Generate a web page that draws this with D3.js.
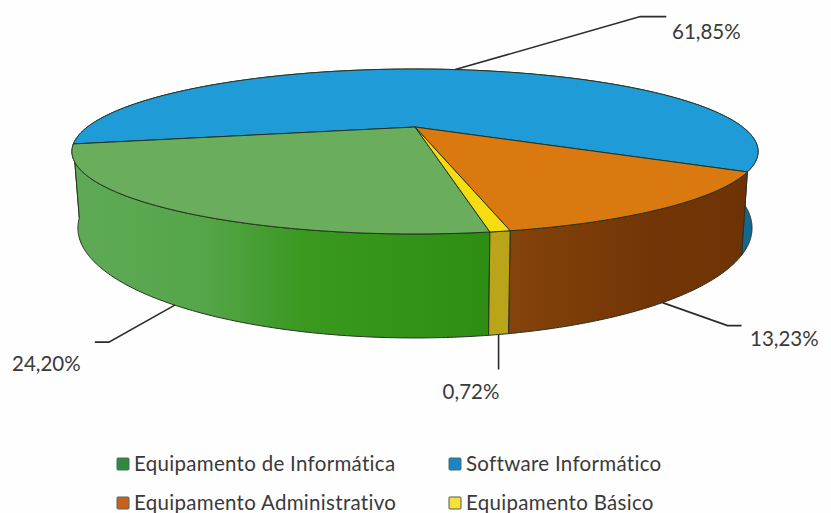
<!DOCTYPE html>
<html><head><meta charset="utf-8">
<script src="https://cdn.jsdelivr.net/npm/d3@7/dist/d3.min.js"></script>
<style>html,body{margin:0;padding:0;background:#fff}svg{display:block}text{font-family:Lato,"Open Sans",sans-serif;fill:#3a3a3a}</style>
</head><body><div id="c"></div>
<script>
const categories = ["Equipamento de Informática","Software Informático","Equipamento Administrativo","Equipamento Básico"];
const values = [24.20,61.85,13.23,0.72];
const labels = ["24,20%","61,85%","13,23%","0,72%"];
const topColors = ["#69ad5d","#1f9bd8","#d9790f","#f6dd12"];
const legendColors = ["#2f8a3c","#1b84c4","#c8621a","#f2e23a"];
const wallColors = ["url(#gw)","#14688f","url(#ow)","#b9a41a"];

const W=831,H=513;
const svg=d3.select("#c").append("svg").attr("width",W).attr("height",H);
svg.append("rect").attr("width",W).attr("height",H).attr("fill","#fefefe");
const defs=svg.append("defs");
function grad(id,x1,x2,stops){
  const g=defs.append("linearGradient").attr("id",id).attr("gradientUnits","userSpaceOnUse")
    .attr("x1",x1).attr("x2",x2).attr("y1",0).attr("y2",0);
  stops.forEach(s=>g.append("stop").attr("offset",s[0]).attr("stop-color",s[1]));
}
grad("gw",75,495,[[0,"#5fa957"],[0.3,"#55a64a"],[0.55,"#3a981f"],[1,"#2d8d12"]]);
grad("ow",512,748,[[0,"#84430a"],[0.6,"#733506"],[1,"#6e3305"]]);

// perspective projection of the disc rim
const P={x0:415,y0:127,A:327.6,B:75.2,p:0.297,
  ex:414,ey:151.5,ea:343,eb:82.5, bx:414,by:228,ba:337,bb:110};
function topRim(a){
  const u=Math.sin(a),v=-Math.cos(a),w=1-P.p*v;
  return [P.x0+P.A*u/w,P.y0+P.B*v/w];
}
function bottomRim(a){
  const t=topRim(a);
  return [P.bx+P.ba*(t[0]-P.ex)/P.ea,P.by+P.bb*(t[1]-P.ey)/P.eb];
}
const deg=Math.PI/180;
const pie=d3.pie().sort(null).value(d=>d).startAngle(170.7*deg).endAngle(530.7*deg);
const arcs=pie(values);
const line=d3.line();
function samples(a0,a1){const n=Math.max(2,Math.ceil(Math.abs(a1-a0)/(0.5*deg)));
  return d3.range(n+1).map(i=>a0+(a1-a0)*i/n);}

// walls: blue first (back), then the others
const stroke="#26331f";
[1,0,2,3].forEach(i=>{
  const d=arcs[i],s=samples(d.startAngle,d.endAngle);
  svg.append("path").attr("d",line(s.map(topRim).concat(s.slice().reverse().map(bottomRim)))+"Z")
    .attr("fill",wallColors[i]).attr("stroke",stroke).attr("stroke-width",1).attr("stroke-linejoin","round");
});
// top faces
[1,0,2,3].forEach(i=>{
  const d=arcs[i],s=samples(d.startAngle,d.endAngle);
  svg.append("path").attr("d",line([[P.x0,P.y0]].concat(s.map(topRim)))+"Z")
    .attr("fill",topColors[i]).attr("stroke",stroke).attr("stroke-width",1).attr("stroke-linejoin","round");
});

// leader lines: anchored at slice mid-angle, then elbow offsets
const leaders=[
 {rim:bottomRim,elbow:[-66,37],end:[-80,37],tx:12,ty:371,anchor:"start"},
 {rim:topRim,elbow:[185,-53],end:[211,-53],tx:672,ty:39,anchor:"start"},
 {rim:bottomRim,elbow:[65,23],end:[79,23],tx:750,ty:346,anchor:"start"},
 {rim:bottomRim,elbow:[0,35],end:[0,35],tx:471,ty:399,anchor:"middle"}
];
arcs.forEach((d,i)=>{
  const L=leaders[i],m=(d.startAngle+d.endAngle)/2,p=L.rim(m);
  svg.append("path").attr("d",line([p,[p[0]+L.elbow[0],p[1]+L.elbow[1]],[p[0]+L.end[0],p[1]+L.end[1]]]))
    .attr("fill","none").attr("stroke","#2b2b2b").attr("stroke-width",1.6);
  svg.append("text").attr("x",L.tx).attr("y",L.ty).attr("text-anchor",L.anchor)
    .attr("font-size",20.5).text(labels[i]);
});

// legend
const legendX=[117,449],legendY=[464,503];
categories.forEach((c,i)=>{
  const lx=legendX[i%2],ly=legendY[i>>1];
  svg.append("rect").attr("x",lx).attr("y",ly-6).attr("width",12).attr("height",12).attr("rx",1)
    .attr("fill",legendColors[i]).attr("stroke",i==3?"#555":"#4a6a6a").attr("stroke-width",1);
  svg.append("text").attr("x",lx+17).attr("y",ly+7).attr("font-size",20.5).attr("letter-spacing",0.3).text(c);
});
</script></body></html>
